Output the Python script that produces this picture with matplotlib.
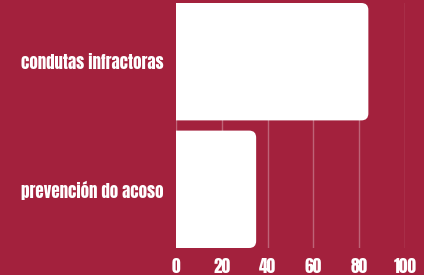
import matplotlib
matplotlib.use("Agg")
import matplotlib.pyplot as plt
from matplotlib.patches import FancyBboxPatch

categories = ["condutas infractoras", "prevención do acoso"]
values = [84, 35]
ticks = [0, 20, 40, 60, 80, 100]

BG = "#A3213D"
plt.rcParams['font.family'] = ['Anton', 'Oswald', 'Barlow Condensed', 'DejaVu Sans']

fig = plt.figure(figsize=(4.24, 2.75), dpi=100, facecolor=BG)
ax = fig.add_axes([176/424, 1-248/275, 229/424, 245/275])
ax.set_facecolor(BG)

ypos = list(range(len(categories)))
bars = ax.barh(ypos, values, height=0.92, color="white", zorder=3)
ax.set_xlim(0, 100)
ax.set_ylim(len(categories) - 1 + 0.46, -0.46)
ax.set_xticks(ticks)
ax.set_yticks(ypos)
ax.set_yticklabels(categories)
for s in ax.spines.values():
    s.set_visible(False)
ax.tick_params(length=0, colors="white")
ax.tick_params(axis='y', pad=9, labelsize=12.2)
ax.tick_params(axis='x', pad=7, labelsize=12.5)
ax.grid(axis='x', color="white", alpha=0.3, linewidth=1, zorder=1)
ax.set_axisbelow(True)

# rounded right corners
fig.canvas.draw()
inv = ax.transData
p0 = inv.transform((0, 0))
p1 = inv.transform((1, 1))
xpx = abs(p1[0] - p0[0])
ypx = abs(p1[1] - p0[1])
rad_px = 7
rx = rad_px / xpx
aspect = (rad_px / ypx) / rx
for b in bars:
    x, y = b.get_x(), b.get_y()
    w, h = b.get_width(), b.get_height()
    b.set_visible(False)
    patch = FancyBboxPatch((x - 10, y), w + 10, h,
                           boxstyle=f"round,pad=0,rounding_size={rx}",
                           mutation_aspect=aspect,
                           facecolor="white", edgecolor="none", zorder=3)
    ax.add_patch(patch)

fig.savefig("out.png", dpi=100, facecolor=BG)
